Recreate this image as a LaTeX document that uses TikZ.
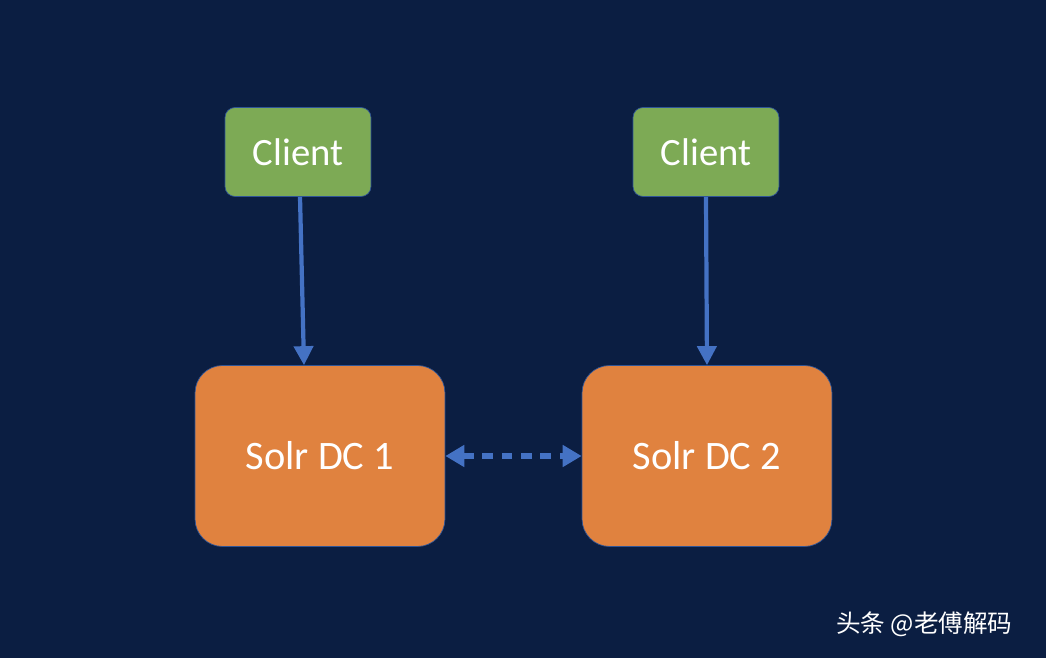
\documentclass[tikz,border=0pt]{standalone}
\usepackage{fontspec}
\setmainfont{Carlito}
\newfontfamily\cjk{Noto Sans CJK SC}
\usetikzlibrary{positioning,arrows.meta}
\definecolor{bgblue}{HTML}{0B1E42}
\definecolor{clientgreen}{HTML}{7DAA55}
\definecolor{solrorange}{HTML}{E0823F}
\definecolor{edgeblue}{HTML}{4472C4}
\definecolor{rimblue}{HTML}{2F5597}
\tikzset{
  client/.style={draw=rimblue, fill=clientgreen, rounded corners=0.2cm, minimum width=2.92cm, minimum height=1.78cm, text=white, font=\fontsize{22}{26}\selectfont},
  solr/.style={draw=rimblue, fill=solrorange, rounded corners=0.55cm, minimum width=5cm, minimum height=3.62cm, text=white, font=\fontsize{23}{27}\selectfont},
  link/.style={draw=edgeblue, line width=2.4pt, -{Triangle[length=0.38cm,width=0.38cm]}}
}
\begin{document}
\begin{tikzpicture}[x=0.02cm,y=-0.02cm]
\fill[bgblue] (0,0) rectangle (1046,658);
\useasboundingbox (0,0) rectangle (1046,658);
\node[client] (client1) at (298,152) {Client};
\node[client] (client2) at (706,152) {Client};
\node[solr] (dc1) at (320,456) {Solr DC 1};
\node[solr] (dc2) at (707,456) {Solr DC 2};
\draw[link] (client1.south) ++(2,0) coordinate (c1) (c1) -- (dc1.north -| 304,0);
\draw[link] (client2.south) -- (dc2.north);
\draw[link, line width=3pt, dash pattern=on 6pt off 5pt, {Triangle[length=0.38cm,width=0.42cm]}-{Triangle[length=0.38cm,width=0.42cm]}] (dc1.east) -- (dc2.west);
\node[text=white, anchor=west, font=\cjk\fontsize{14}{16}\selectfont] (mark) at (830,624) {头条 @老傅解码};
\end{tikzpicture}
\end{document}
